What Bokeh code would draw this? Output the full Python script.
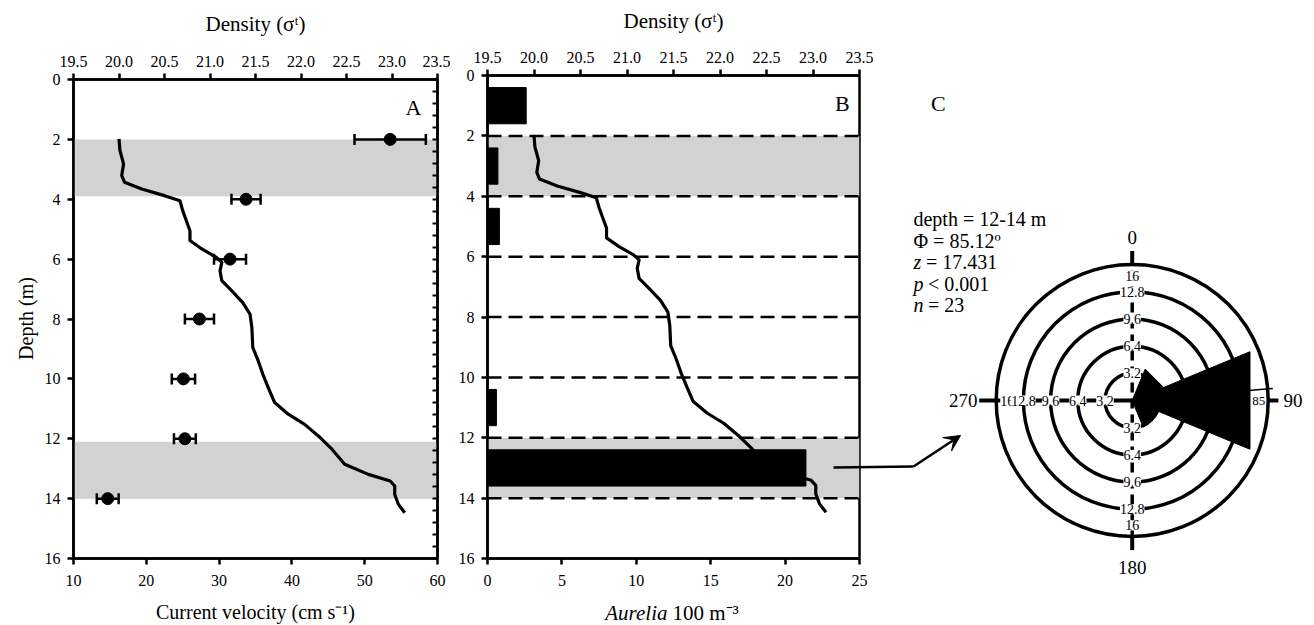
import numpy as np
from bokeh.plotting import figure
from bokeh.models import (Range1d, LinearAxis, FixedTicker, ColumnDataSource,
                          Label, LabelSet, Arrow, VeeHead, PrintfTickFormatter, GridBox)
from bokeh.core.properties import value
from bokeh.embed import file_html
from bokeh.resources import INLINE

# ---------------- data ----------------
depth_levels = [2, 4, 6, 8, 10, 12, 14]
velocity = [53.5, 33.7, 31.5, 27.3, 25.1, 25.3, 14.7]
velocity_err = [4.9, 2.0, 2.2, 2.0, 1.6, 1.5, 1.5]

profile_density = [20.0, 20.01, 20.05, 20.03, 20.06, 20.25, 20.5, 20.67, 20.7, 20.74, 20.78,
                   20.78, 20.91, 21.07, 21.13, 21.11, 21.13, 21.24, 21.36, 21.44, 21.46, 21.47,
                   21.53, 21.58, 21.64, 21.71, 21.86, 22.04, 22.21, 22.34, 22.48, 22.74, 22.98,
                   23.03, 23.03, 23.07, 23.14]
profile_depth = [1.98, 2.37, 2.82, 3.21, 3.43, 3.66, 3.88, 4.05, 4.38, 4.72, 5.05,
                 5.38, 5.66, 5.94, 6.11, 6.39, 6.72, 7.06, 7.45, 7.84, 8.28, 8.95,
                 9.4, 9.84, 10.29, 10.79, 11.18, 11.52, 11.96, 12.35, 12.85, 13.19, 13.41,
                 13.58, 13.86, 14.19, 14.47]

bandA_top = [2.0, 12.1]
bandA_bottom = [3.9, 14.0]
bandB_top = [2.0, 12.0]
bandB_bottom = [4.0, 14.0]
dash_levels = [2, 4, 6, 8, 10, 12, 14]

bin_centers = [1, 3, 5, 7, 9, 11, 13, 15]
aurelia = [2.6, 0.7, 0.8, 0.0, 0.0, 0.6, 21.4, 0.0]

rose_bins = [0, 45, 90, 135, 180, 225, 270, 315]
rose_counts = [0, 4.0, 15.0, 3.4, 0, 0, 0, 0]
ring_values = [3.2, 6.4, 9.6, 12.8, 16]
mean_angle = 85.12

vel_ticks = [10, 20, 30, 40, 50, 60]
dens_ticks = [19.5, 20.0, 20.5, 21.0, 21.5, 22.0, 22.5, 23.0, 23.5]
depth_ticks = [0, 2, 4, 6, 8, 10, 12, 14, 16]
aur_ticks = [0, 5, 10, 15, 20, 25]

SERIF = "Liberation Serif"
BAND = "#d2d2d2"
H = 625


def style_axis(ax, ticks):
    ax.ticker = FixedTicker(ticks=ticks)
    ax.axis_line_width = 2.5
    ax.major_tick_line_width = 2.5
    ax.major_tick_out = 6
    ax.major_tick_in = 0
    ax.minor_tick_line_color = None
    ax.major_label_text_font = SERIF
    ax.major_label_text_font_size = "16px"
    ax.major_label_text_color = "black"
    ax.major_label_standoff = 7


def base_fig(width, x0, x1, xticks, bl, br, bt, bb):
    p = figure(width=width, height=H, x_range=Range1d(x0, x1), y_range=Range1d(16, 0),
               output_backend="svg", toolbar_location=None,
               min_border_left=bl, min_border_right=br, min_border_top=bt, min_border_bottom=bb)
    p.frame_align = False
    p.extra_x_ranges = {"dens": Range1d(19.5, 23.5)}
    p.grid.visible = False
    p.outline_line_color = "black"
    p.outline_line_width = 2.5
    bottom = p.xaxis[0]
    style_axis(bottom, xticks)
    bottom.major_label_standoff = 10
    style_axis(p.yaxis[0], depth_ticks)
    top = LinearAxis(x_range_name="dens")
    style_axis(top, dens_ticks)
    top.formatter = PrintfTickFormatter(format="%.1f")
    p.add_layout(top, "above")
    return p


def txt(p, x, y, text, size, align="center", style="normal", **kw):
    p.add_layout(Label(x=x, y=y, text=text, text_align=align, text_baseline="middle",
                       text_font=SERIF, text_font_size=size, text_font_style=style,
                       text_color="black", **kw))


# ---------------- Panel A ----------------
pA = base_fig(450, 10, 60, vel_ticks, 73, 13, 79, 67)
right = LinearAxis()
right.ticker = FixedTicker(ticks=[], minor_ticks=list(np.round(np.arange(0, 16.01, 0.4), 2)))
right.axis_line_width = 2.5
right.minor_tick_in = 5
right.minor_tick_out = 0
right.minor_tick_line_width = 2
right.minor_tick_line_color = "black"
pA.add_layout(right, "right")

pA.quad(left=10, right=60, top=bandA_top, bottom=bandA_bottom, fill_color=BAND, line_color=None)
pA.line(x=profile_density, y=profile_depth, x_range_name="dens", line_width=3.2, line_color="black",
        line_join="round")

lo = [v - e for v, e in zip(velocity, velocity_err)]
hi = [v + e for v, e in zip(velocity, velocity_err)]
vsrc = ColumnDataSource(dict(depth=depth_levels, v=velocity, lo=lo, hi=hi))
pA.segment(x0="lo", x1="hi", y0="depth", y1="depth", source=vsrc, line_width=2.5, line_color="black")
for col in ("lo", "hi"):
    pA.scatter(x=col, y="depth", source=vsrc, marker="dash", angle=np.pi / 2, size=11,
               line_width=2.5, line_color="black")
pA.scatter(x="v", y="depth", source=vsrc, size=12, fill_color="black", line_color="black")
txt(pA, 56.7, 0.94, "A", "22px")

# ---------------- Panel B ----------------
pB = base_fig(423, 0, 25, aur_ticks, 37, 14, 75, 67)
pB.quad(left=0, right=25, top=bandB_top, bottom=bandB_bottom, fill_color=BAND, line_color=None)
pB.segment(x0=0, x1=25, y0=dash_levels, y1=dash_levels, line_dash="14 7", line_width=2.5,
           line_color="black")
pB.hbar(y=bin_centers, height=1.2, left=0, right=aurelia, fill_color="black", line_color="black")
pB.line(x=profile_density, y=profile_depth, x_range_name="dens", line_width=3.2, line_color="black",
        line_join="round")
txt(pB, 23.84, 0.93, "B", "22px")

# ---------------- Panel C ----------------
S = 8.5  # px per count unit
CW = 441
cx, cy = 258.7, 400.0
pC = figure(width=CW, height=H, x_range=Range1d(-cx / S, (CW - cx) / S),
            y_range=Range1d(-(H - cy) / S, cy / S), output_backend="svg", toolbar_location=None,
            min_border=0)
pC.frame_align = False
pC.axis.visible = False
pC.grid.visible = False
pC.outline_line_color = None

pC.circle(x=[0] * len(ring_values), y=[0] * len(ring_values), radius=ring_values,
          fill_color=None, line_color="black", line_width=3.5)
rmax = max(ring_values)
pC.line(x=[0, 0], y=[-rmax, rmax], line_dash="10 6", line_width=3.5, line_color="black")
pC.segment(x0=[0, 0, rmax, -rmax - 2.0], y0=[rmax, -rmax, 0, 0],
           x1=[0, 0, rmax + 1.2, 0], y1=[rmax + 1.6, -rmax - 1.6, 0, 0],
           line_width=4, line_color="black")

xs, ys = [], []
for c, n in zip(rose_bins, rose_counts):
    if n <= 0:
        continue
    a0, a1 = np.radians(c - 22.5), np.radians(c + 22.5)
    xs.append([0, n * np.sin(a0), n * np.sin(a1)])
    ys.append([0, n * np.cos(a0), n * np.cos(a1)])
pC.patches(xs=xs, ys=ys, fill_color="black", line_color="black", line_width=1)

ma = np.radians(mean_angle)
pC.line(x=[0, 16.6 * np.sin(ma)], y=[0, 16.6 * np.cos(ma)], line_width=1.5, line_color="black")

lab_r = [14.7, -14.7] + ring_values[:4] + [-v for v in ring_values[:4]]
lab_t = ["16", "16"] + [f"{v:.1f}" for v in ring_values[:4]] * 2
left_r = [-14.7] + [-v for v in ring_values[:4][::-1]]
left_t = ["16"] + [f"{v:.1f}" for v in ring_values[:4][::-1]]
ring_src = ColumnDataSource(dict(x=[0] * len(lab_r) + left_r,
                                 y=lab_r + [0] * len(left_r),
                                 t=lab_t + left_t))
pC.add_layout(LabelSet(x="x", y="y", text="t", source=ring_src, text_align="center",
                       text_baseline="middle", text_font=value(SERIF), text_font_size=value("14px"),
                       text_color="black", background_fill_color="white"))
txt(pC, 14.9, 0, "85", "13px", background_fill_color="white")

txt(pC, 0, 19.2, "0", "19px")
txt(pC, 0, -19.6, "180", "19px")
txt(pC, -18.2, 0, "270", "19px", align="right")
txt(pC, 17.8, 0, "90", "19px", align="left")

txt(pC, -22.8, 34.9, "C", "22px")
sx = -25.73
txt(pC, sx, 21.41, "depth = 12-14 m", "20px", align="left")
txt(pC, sx, 18.82, "Φ = 85.12º", "20px", align="left")
for letter, rest, y, w in [("z", "= 17.431", 16.24, 12.5), ("p", "< 0.001", 13.76, 14.5),
                           ("n", "= 23", 11.18, 14.5)]:
    txt(pC, sx, y, letter, "20px", align="left", style="italic")
    txt(pC, sx + w / S, y, rest, "20px", align="left")

# ---------------- overlay: free texts and connecting arrow ----------------
ov = figure(width=1314, height=H, x_range=Range1d(0, 1314), y_range=Range1d(H, 0),
            output_backend="svg", toolbar_location=None, min_border=0)
ov.frame_align = False
ov.axis.visible = False
ov.grid.visible = False
ov.outline_line_color = None
ov.background_fill_color = None
ov.border_fill_color = None

txt(ov, 255, 23, "Density (σᵗ)", "21px")
txt(ov, 673, 20, "Density (σᵗ)", "21px")
txt(ov, 255, 611, "Current velocity (cm s⁻¹)", "20px")
txt(ov, 25, 318, "Depth (m)", "20px", angle=np.pi / 2)
txt(ov, 667, 612, "Aurelia", "21px", align="right", style="italic")
txt(ov, 672, 612, "100 m⁻³", "21px", align="left")

ov.line(x=[833, 913], y=[467, 466], line_width=2.5, line_color="black")
ov.add_layout(Arrow(x_start=913, y_start=466, x_end=960, y_end=435,
                    end=VeeHead(size=16, fill_color="black", line_color="black"),
                    line_width=2.5, line_color="black"))

layout = GridBox(children=[(pA, 0, 0), (pB, 0, 1), (pC, 0, 2), (ov, 0, 0, 1, 3)])
open("out.html", "w").write(file_html(layout, INLINE))
